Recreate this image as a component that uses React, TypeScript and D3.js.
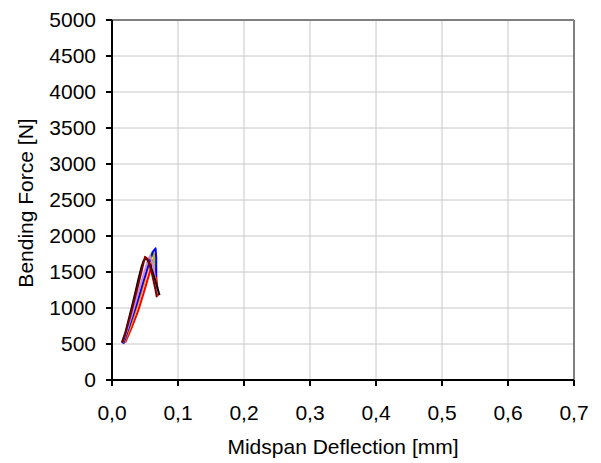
import * as d3 from 'd3';

const W = 601;
const H = 463;
const M = { top: 20, right: 27, bottom: 83, left: 112 };

const xTicks = [0, 0.1, 0.2, 0.3, 0.4, 0.5, 0.6, 0.7];
const yTicks = [0, 500, 1000, 1500, 2000, 2500, 3000, 3500, 4000, 4500, 5000];

type Pt = [number, number];

const black: Pt[] = [[0.015, 520], [0.02, 650], [0.025, 830], [0.03, 1010], [0.035, 1200], [0.04, 1400], [0.045, 1580], [0.048, 1660], [0.052, 1690], [0.058, 1600], [0.065, 1400], [0.072, 1180]];
const maroon: Pt[] = [[0.016, 520], [0.022, 700], [0.028, 900], [0.034, 1110], [0.04, 1330], [0.046, 1560], [0.05, 1710], [0.054, 1680], [0.06, 1500], [0.066, 1250], [0.068, 1150]];
const violet: Pt[] = [[0.016, 510], [0.024, 720], [0.032, 960], [0.04, 1220], [0.048, 1470], [0.055, 1680], [0.058, 1720], [0.062, 1600], [0.066, 1380], [0.069, 1200]];
const yellowGreen: Pt[] = [[0.017, 510], [0.026, 730], [0.035, 980], [0.044, 1260], [0.052, 1530], [0.057, 1700], [0.061, 1780], [0.063, 1700], [0.065, 1550]];
const orange: Pt[] = [[0.018, 510], [0.028, 740], [0.038, 1010], [0.048, 1320], [0.056, 1600], [0.061, 1750], [0.064, 1760], [0.066, 1600]];
const red: Pt[] = [[0.02, 520], [0.03, 730], [0.04, 970], [0.048, 1210], [0.056, 1460], [0.062, 1660], [0.064, 1690], [0.066, 1550], [0.068, 1350], [0.07, 1170]];
const blue: Pt[] = [[0.017, 500], [0.027, 760], [0.037, 1040], [0.047, 1350], [0.055, 1590], [0.062, 1780], [0.066, 1830], [0.067, 1700], [0.067, 1430]];

const series: { data: Pt[]; color: string }[] = [
  { data: red, color: '#ff0000' },
  { data: orange, color: '#ff9900' },
  { data: yellowGreen, color: '#99cc00' },
  { data: blue, color: '#0000ff' },
  { data: violet, color: '#cc88dd' },
  { data: black, color: '#000000' },
  { data: maroon, color: '#800000' },
];

const FONT = 'Arial, "Liberation Sans", sans-serif';
const FS = 21;

export default function App() {
  const iw = W - M.left - M.right;
  const ih = H - M.top - M.bottom;
  const x = d3.scaleLinear().domain([0, 0.7]).range([0, iw]);
  const y = d3.scaleLinear().domain([0, 5000]).range([ih, 0]);
  const line = d3
    .line<Pt>()
    .x((d) => x(d[0]))
    .y((d) => y(d[1]));
  const fmtX = (v: number) => v.toFixed(1).replace('.', ',');

  return (
    <svg width={W} height={H} style={{ position: 'absolute', left: 0, top: 0 }} fontFamily={FONT}>
      <rect width={W} height={H} fill="#fff" />
      <g transform={`translate(${M.left},${M.top})`}>
        {yTicks.map((t) => (
          <line key={'gy' + t} x1={0} x2={iw} y1={y(t)} y2={y(t)} stroke="#c8c8c8" strokeWidth={1} />
        ))}
        {xTicks.map((t) => (
          <line key={'gx' + t} x1={x(t)} x2={x(t)} y1={0} y2={ih} stroke="#c8c8c8" strokeWidth={1} />
        ))}
        <line x1={0} x2={iw} y1={0} y2={0} stroke="#808080" strokeWidth={2} />
        <line x1={iw} x2={iw} y1={0} y2={ih} stroke="#808080" strokeWidth={2} />
        {series.map((s, i) => (
          <path key={i} d={line(s.data) ?? ''} fill="none" stroke={s.color} strokeWidth={2} strokeLinejoin="round" />
        ))}
        <line x1={0} x2={0} y1={0} y2={ih + 1} stroke="#000" strokeWidth={2} />
        <line x1={-1} x2={iw} y1={ih} y2={ih} stroke="#000" strokeWidth={2} />
        {yTicks.map((t) => (
          <g key={'ty' + t} transform={`translate(0,${y(t)})`}>
            <line x1={-6} x2={0} stroke="#000" strokeWidth={2} />
            <text x={-16} dy="0.35em" textAnchor="end" fontSize={FS} fill="#000">
              {t}
            </text>
          </g>
        ))}
        {xTicks.map((t) => (
          <g key={'tx' + t} transform={`translate(${x(t)},${ih})`}>
            <line y1={0} y2={6} stroke="#000" strokeWidth={2} />
            <text y={40} textAnchor="middle" fontSize={FS} fill="#000">
              {fmtX(t)}
            </text>
          </g>
        ))}
        <text x={iw / 2} y={ih + 74} textAnchor="middle" fontSize={FS} fill="#000">
          Midspan Deflection [mm]
        </text>
        <text transform={`translate(${-79},${ih / 2 + 3}) rotate(-90)`} textAnchor="middle" fontSize={FS} fill="#000">
          Bending Force [N]
        </text>
      </g>
    </svg>
  );
}
